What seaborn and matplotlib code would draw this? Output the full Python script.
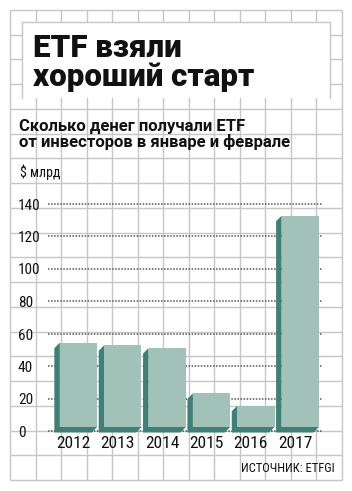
import numpy as np
import pandas as pd
import matplotlib
matplotlib.use("Agg")
import matplotlib.pyplot as plt
import matplotlib.transforms as mtransforms
from matplotlib.patches import Polygon, Rectangle
import seaborn as sns

# ---- data ----
years = ["2012", "2013", "2014", "2015", "2016", "2017"]
inflows = [51.9, 50.3, 48.6, 20.7, 13.1, 130.0]
y_ticks = [0, 20, 40, 60, 80, 100, 120, 140]
title_lines = ["ETF взяли", "хороший старт"]
subtitle_lines = ["Сколько денег получали ETF", "от инвесторов в январе и феврале"]
unit_label = "$ млрд"
source_label = "ИСТОЧНИК: ETFGI"

FRONT = "#a1c1b9"
SIDE = "#3e8074"
GRID = "#c6c6c6"

sns.set_style("white")
plt.rcParams["font.family"] = ["Roboto Condensed", "DejaVu Sans"]
plt.rcParams["font.stretch"] = "condensed"
WIDE = ["Roboto", "DejaVu Sans"]

W, H = 352, 491
fig = plt.figure(figsize=(W / 100, H / 100), dpi=100)
fig.patch.set_facecolor("white")

# ---- graph-paper background ----
bg = fig.add_axes([0, 0, 1, 1])
bg.set_xlim(0, W)
bg.set_ylim(H, 0)
bg.axis("off")
gx = np.linspace(10, 342, 14)
gy = np.linspace(10, 480, 20)
bg.vlines(gx, 10, 480, color=GRID, lw=1.0, zorder=1)
bg.hlines(gy, 10, 342, color=GRID, lw=1.0, zorder=1)
# white title box
bg.add_patch(Rectangle((21.7, 22), 308.3, 76, facecolor="white", edgecolor="none", zorder=2))
bg.plot([21.7, 21.7, 330, 330], [98, 22, 22, 98], color=GRID, lw=1.0, zorder=3)

# multi-line texts: baseline alignment refers to the last line
bg.text(33, 85.7, "\n".join(title_lines), fontsize=22.5, fontweight="black", family=WIDE,
        fontstretch="normal", va="baseline", ha="left", linespacing=0.96,
        color="#111111", zorder=4)
bg.text(19, 146.7, "\n".join(subtitle_lines), fontsize=12, fontweight="bold", family=WIDE,
        fontstretch="normal", va="baseline", ha="left", linespacing=0.97,
        color="#111111", zorder=4)
bg.text(20, 177.5, unit_label, fontsize=10, va="baseline", ha="left", color="#111111", zorder=4)
bg.text(335, 468, source_label, fontsize=9, va="center", ha="right", color="#111111", zorder=4)

# ---- bar chart ----
ax_l, ax_r, ax_t, ax_b = 48, 322, 195, 440
ax = fig.add_axes([ax_l / W, (H - ax_b) / H, (ax_r - ax_l) / W, (ax_b - ax_t) / H])
ax.set_facecolor("none")
df = pd.DataFrame({"year": years, "value": inflows})
sns.barplot(data=df, x="year", y="value", color=FRONT, saturation=1, width=0.841,
            ax=ax, edgecolor="none", linewidth=0)

px_per_cat = 44.35
px_per_unit = 1.625
zero_px = 427
ax.set_xlim((ax_l - 78.5) / px_per_cat, (ax_r - 78.5) / px_per_cat)
ax.set_ylim(-(ax_b - zero_px) / px_per_unit, (zero_px - ax_t) / px_per_unit)
for s in ax.spines.values():
    s.set_visible(False)
ax.set_xticks([])
ax.set_yticks([])
ax.set_xlabel("")
ax.set_ylabel("")

# 3D extrusion of every bar
dx = 5.5 / px_per_cat
dy = 5.5 / px_per_unit
for p in list(ax.patches):
    p.set_zorder(3)
    x0, w, h = p.get_x(), p.get_width(), p.get_height()
    poly = Polygon([(x0, h), (x0 - dx, h - dy), (x0 - dx, -dy), (x0 + w - dx, -dy),
                    (x0 + w, 0), (x0, 0)], closed=True, facecolor=SIDE, edgecolor="none",
                   zorder=2.5)
    ax.add_patch(poly)

# dotted gridlines on the back wall (4 px lower than the front baseline)
down4 = ax.transData + mtransforms.ScaledTranslation(0, -4 / 100, fig.dpi_scale_trans)
xl = ax.get_xlim()
for v in y_ticks:
    ax.plot(xl, [v, v], color="#555555", lw=1.1, ls=(0, (1, 1)), transform=down4, zorder=1)

# y tick labels
lab_tr = mtransforms.blended_transform_factory(fig.transFigure, ax.transData) + \
    mtransforms.ScaledTranslation(0, -6 / 100, fig.dpi_scale_trans)
for v in y_ticks:
    ax.text(18 / W, v, str(v), transform=lab_tr, ha="left", va="center", fontsize=11,
            color="#111111", clip_on=False)

# year labels
yr_tr = ax.transData + mtransforms.ScaledTranslation(-5 / 100, -17 / 100, fig.dpi_scale_trans)
for i, yl in enumerate(years):
    ax.text(i, 0, yl, transform=yr_tr, ha="center", va="center", fontsize=12.5,
            color="#111111", clip_on=False)

fig.savefig("out.png", dpi=100, facecolor="white")
